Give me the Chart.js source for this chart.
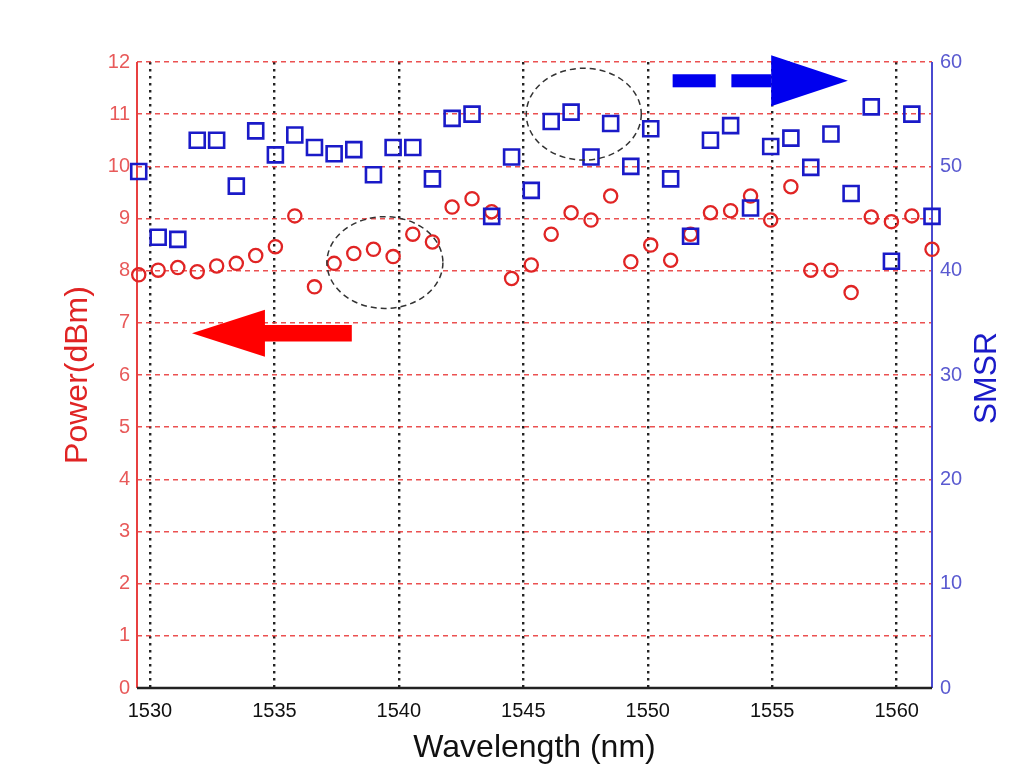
<!DOCTYPE html>
<html>
<head>
<meta charset="utf-8">
<script src="https://cdn.jsdelivr.net/npm/chart.js@4.4.0/dist/chart.umd.min.js"></script>
<style>
  html, body { margin: 0; padding: 0; background: #fff; }
  #wrap { width: 1020px; height: 771px; }
</style>
</head>
<body>
<div id="wrap"><canvas id="chart" width="1020" height="771"></canvas></div>
<script>
// channel wavelengths (nm)
const wavelengths = [1529.55, 1530.33, 1531.12, 1531.90, 1532.68, 1533.47, 1534.25, 1535.04, 1535.82, 1536.61,
    1537.40, 1538.19, 1538.98, 1539.77, 1540.56, 1541.35, 1542.14, 1542.94, 1543.73, 1544.53,
    1545.32, 1546.12, 1546.92, 1547.72, 1548.51, 1549.32, 1550.12, 1550.92, 1551.72, 1552.52,
    1553.33, 1554.13, 1554.94, 1555.75, 1556.55, 1557.36, 1558.17, 1558.98, 1559.79, 1560.61, 1561.42];

// output power (dBm), left axis
const powerDbm = [7.92, 8.01, 8.06, 7.98, 8.09, 8.14, 8.29, 8.46, 9.05, 7.69,
    8.14, 8.33, 8.41, 8.27, 8.70, 8.55, 9.22, 9.38, 9.13, 7.85,
    8.11, 8.70, 9.11, 8.97, 9.43, 8.17, 8.49, 8.20, 8.70, 9.11,
    9.15, 9.43, 8.97, 9.61, 8.01, 8.01, 7.58, 9.03, 8.94, 9.05, 8.41];

// SMSR (dB), right axis
const smsrValues = [49.5, 43.2, 43.0, 52.5, 52.5, 48.1, 53.4, 51.1, 53.0, 51.8,
    51.2, 51.6, 49.2, 51.8, 51.8, 48.8, 54.6, 55.0, 45.2, 50.9,
    47.7, 54.3, 55.2, 50.9, 54.1, 50.0, 53.6, 48.8, 43.3, 52.5,
    53.9, 46.0, 51.9, 52.7, 49.9, 53.1, 47.4, 55.7, 40.9, 55.0, 45.2];

const xTicks = [1530, 1535, 1540, 1545, 1550, 1555, 1560];
const powerTicks = [0, 1, 2, 3, 4, 5, 6, 7, 8, 9, 10, 11, 12];
const smsrTicks = [0, 10, 20, 30, 40, 50, 60];

const FONT = "'Liberation Sans', Arial, sans-serif";
const RED = '#e02424';
const BLUE = '#1a1ac8';

function setTicks(list) {
    return function (scale) {
        scale.ticks = list.map(v => ({ value: v }));
    };
}

// axis lines, SMSR title, dashed circles and the two arrows
const decorPlugin = {
    id: 'decor',
    beforeDatasetsDraw(chart) {
        const { ctx, chartArea: a } = chart;
        ctx.save();
        ctx.lineWidth = 2;
        ctx.strokeStyle = '#e84040';
        ctx.beginPath(); ctx.moveTo(a.left, a.top); ctx.lineTo(a.left, a.bottom); ctx.stroke();
        ctx.strokeStyle = '#4a4ad0';
        ctx.beginPath(); ctx.moveTo(a.right, a.top); ctx.lineTo(a.right, a.bottom); ctx.stroke();
        ctx.strokeStyle = '#222';
        ctx.lineWidth = 2.5;
        ctx.beginPath(); ctx.moveTo(a.left, a.bottom); ctx.lineTo(a.right, a.bottom); ctx.stroke();
        ctx.restore();
    },
    afterDatasetsDraw(chart) {
        const { ctx } = chart;
        const x = chart.scales.x, y = chart.scales.y;
        const px = v => x.getPixelForValue(v);
        const py = v => y.getPixelForValue(v);

        // dashed ellipses
        ctx.save();
        ctx.strokeStyle = '#333';
        ctx.lineWidth = 1.5;
        ctx.setLineDash([6, 4]);
        [[1539.44, 8.155, 2.33, 0.88], [1547.43, 11.0, 2.31, 0.88]].forEach(e => {
            const cx = px(e[0]), cy = py(e[1]);
            const rx = px(e[0] + e[2]) - cx, ry = cy - py(e[1] + e[3]);
            ctx.beginPath();
            ctx.ellipse(cx, cy, rx, ry, 0, 0, Math.PI * 2);
            ctx.stroke();
        });
        ctx.restore();

        // red arrow pointing left
        ctx.save();
        ctx.fillStyle = '#ff0000';
        ctx.beginPath();
        ctx.moveTo(px(1531.69), py(6.80));
        ctx.lineTo(px(1534.62), py(7.25));
        ctx.lineTo(px(1534.62), py(6.96));
        ctx.lineTo(px(1538.11), py(6.96));
        ctx.lineTo(px(1538.11), py(6.64));
        ctx.lineTo(px(1534.62), py(6.64));
        ctx.lineTo(px(1534.62), py(6.35));
        ctx.closePath();
        ctx.fill();

        // blue dashed arrow pointing right
        ctx.fillStyle = '#0000ee';
        const yc = 11.64;
        ctx.fillRect(px(1551.0), py(yc + 0.125), px(1552.73) - px(1551.0), py(yc - 0.125) - py(yc + 0.125));
        ctx.fillRect(px(1553.36), py(yc + 0.125), px(1554.96) - px(1553.36), py(yc - 0.125) - py(yc + 0.125));
        ctx.beginPath();
        ctx.moveTo(px(1554.96), py(yc + 0.49));
        ctx.lineTo(px(1558.04), py(yc));
        ctx.lineTo(px(1554.96), py(yc - 0.49));
        ctx.closePath();
        ctx.fill();
        ctx.restore();
    },
    afterDraw(chart) {
        const { ctx, chartArea: a } = chart;
        ctx.save();
        ctx.translate(chart.width - 33, (a.top + a.bottom) / 2 + 3);
        ctx.rotate(-Math.PI / 2);
        ctx.fillStyle = BLUE;
        ctx.font = '32px ' + FONT;
        ctx.textAlign = 'center';
        ctx.textBaseline = 'middle';
        ctx.fillText('SMSR', 0, 0);
        ctx.restore();
    }
};

new Chart(document.getElementById('chart'), {
    type: 'scatter',
    data: {
        datasets: [{
            label: 'Power',
            data: wavelengths.map((w, i) => ({ x: w, y: powerDbm[i] })),
            yAxisID: 'y',
            pointStyle: 'circle',
            pointRadius: 6.6,
            borderWidth: 2.3,
            borderColor: RED,
            backgroundColor: 'rgba(0,0,0,0)',
            order: 2,
            clip: false
        }, {
            label: 'SMSR',
            data: wavelengths.map((w, i) => ({ x: w, y: smsrValues[i] })),
            yAxisID: 'y2',
            pointStyle: 'rect',
            pointRadius: 10.6,
            borderWidth: 2.6,
            borderColor: BLUE,
            backgroundColor: 'rgba(0,0,0,0)',
            order: 1,
            clip: false
        }]
    },
    options: {
        responsive: false,
        animation: false,
        layout: { padding: { top: 62, left: 0, right: 0, bottom: 0 } },
        plugins: { legend: { display: false }, tooltip: { enabled: false } },
        scales: {
            x: {
                type: 'linear',
                min: 1529.48,
                max: 1561.42,
                afterBuildTicks: setTicks(xTicks),
                afterFit(scale) { scale.height = 83; },
                grid: { color: '#222', lineWidth: 2.4, drawTicks: false },
                border: { display: false, dash: [2.5, 4.5] },
                ticks: { color: '#111', padding: 11, font: { family: FONT, size: 20 }, callback: v => String(v) },
                title: { display: true, text: 'Wavelength (nm)', color: '#111', font: { family: FONT, size: 32 }, padding: { bottom: 4 } }
            },
            y: {
                position: 'left',
                min: 0,
                max: 12,
                afterBuildTicks: setTicks(powerTicks),
                afterFit(scale) { scale.width = 137; },
                grid: { color: 'rgba(232,50,50,0.85)', lineWidth: 1.5, drawTicks: false },
                border: { display: false, dash: [5, 4] },
                ticks: { color: '#e85a5a', padding: 7, font: { family: FONT, size: 20 } },
                title: { display: true, text: 'Power(dBm)', color: RED, font: { family: FONT, size: 32 }, padding: { top: 59 } }
            },
            y2: {
                position: 'right',
                min: 0,
                max: 60,
                afterBuildTicks: setTicks(smsrTicks),
                afterFit(scale) { scale.width = 88; },
                grid: { drawOnChartArea: false, drawTicks: false },
                border: { display: false },
                ticks: { color: '#5a5ad0', padding: 8, font: { family: FONT, size: 20 } }
            }
        }
    },
    plugins: [decorPlugin]
});
</script>
</body>
</html>
